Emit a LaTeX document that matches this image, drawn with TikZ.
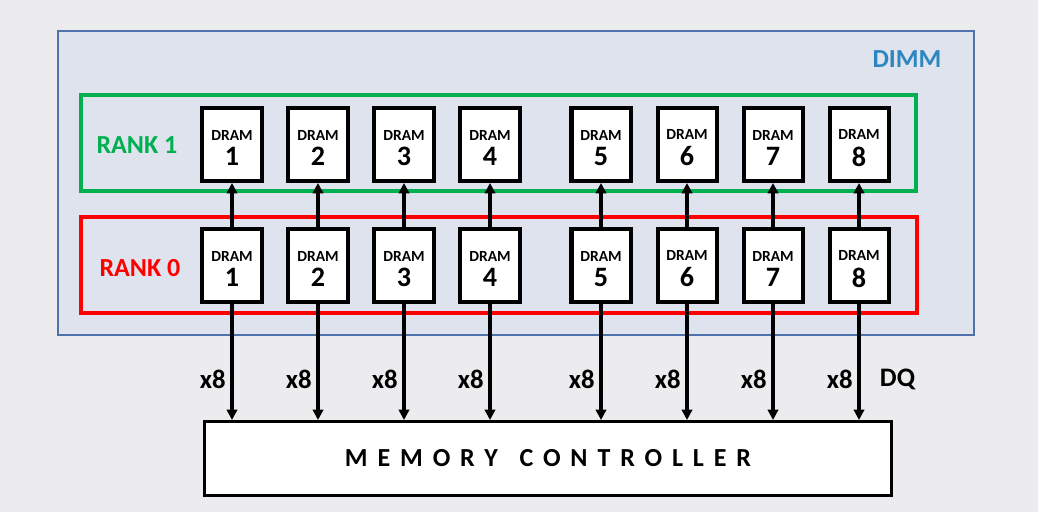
\documentclass[tikz,border=0pt]{standalone}
\usepackage{fontspec}
\setmainfont{Carlito}
\usetikzlibrary{arrows.meta, positioning}
\definecolor{bgGray}{RGB}{236,235,238}
\definecolor{dimmFill}{RGB}{223,227,237}
\definecolor{dimmLine}{RGB}{79,114,170}
\definecolor{dimmText}{RGB}{46,134,193}
\definecolor{rankGreen}{RGB}{0,176,80}
\definecolor{rankRed}{RGB}{255,0,0}
\tikzset{
    dram_chip/.style={rectangle, draw, line width=0.1cm, fill=white, minimum width=1.475cm, minimum height=1.825cm, align=center, inner sep=0pt, font=\bfseries},
    rank_box/.style={rectangle, draw, line width=0.1cm, minimum width=20.875cm, minimum height=2.4cm},
    rank_label/.style={font=\fontsize{18.5}{20}\selectfont\bfseries},
    bus_label/.style={font=\fontsize{19}{20}\selectfont\bfseries},
    arrow/.style={-{Triangle[length=0.26cm, width=0.26cm]}, line width=0.085cm}
}
\newcommand{\chiptext}[1]{{\fontsize{11}{12}\selectfont\rule{0pt}{12pt}DRAM}\\[4pt]{\fontsize{20}{20}\selectfont #1}}

\begin{document}
\begin{tikzpicture}[x=0.025cm, y=-0.025cm]
    % background and frame
    \fill[bgGray] (0,0) rectangle (1038,512);
    \useasboundingbox (0,0) rectangle (1038,512);
    \node (dimm) [rectangle, draw=dimmLine, line width=0.04cm, fill=dimmFill, minimum width=22.9cm, minimum height=7.6cm] at (516,183) {};
    \node (dimmtxt) [rank_label, text=dimmText] at (907,59) {DIMM};

    % the two ranks
    \node (rank1) [rank_box, draw=rankGreen] at (498.5,143) {};
    \node (rank0) [rank_box, draw=rankRed] at (499,265) {};
    \node (rank1txt) [rank_label, text=rankGreen] at (137,145) {RANK 1};
    \node (rank0txt) [rank_label, text=rankRed] at (140,268) {RANK 0};

    % DRAM chips
    \foreach \i/\x in {1/232, 2/318, 3/404, 4/490, 5/601, 6/687, 7/773, 8/859} {
        \node (r1-\i) [dram_chip] at (\x,144.5) {\chiptext{\i}};
        \node (r0-\i) [dram_chip] at (\x,265.5) {\chiptext{\i}};
    }

    % controller
    \node (mc) [rectangle, draw, line width=0.075cm, fill=white, minimum width=17.175cm, minimum height=1.85cm, font=\fontsize{18.5}{20}\selectfont\bfseries\addfontfeature{LetterSpace=38}] at (548,458.5) {MEMORY\ \hspace{0.15cm}CONTROLLER};

    % buses
    \foreach \i in {1,...,8} {
        \draw [arrow] (r0-\i.north) -- (r1-\i.south);
        \draw [arrow] (r0-\i.south) -- node (x8-\i) [bus_label, left, pos=0.65] {x8} (r0-\i.south |- mc.north);
    }
    \node (dq) [bus_label, right=0.4cm of x8-8] {DQ};
\end{tikzpicture}
\end{document}
